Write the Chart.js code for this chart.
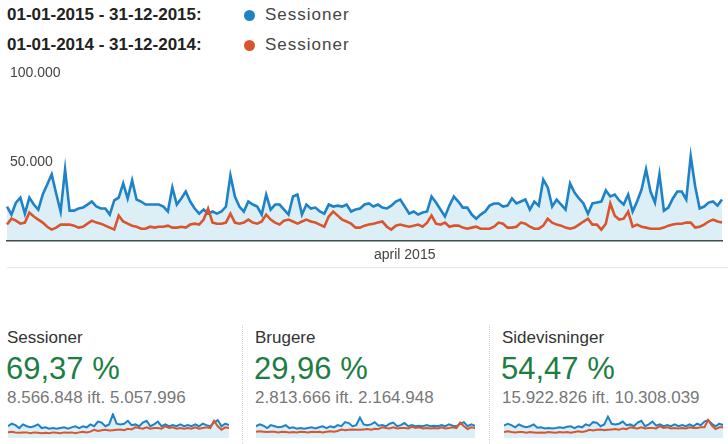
<!DOCTYPE html>
<html lang="da">
<head>
<meta charset="UTF-8">
<title>Sessioner 2015 vs 2014</title>
<script src="https://cdn.jsdelivr.net/npm/chart.js"></script>
<style>
  body { margin:0; width:728px; height:444px; overflow:hidden; background:#fff;
         font-family:"Liberation Sans", Arial, sans-serif; position:relative; }
  .abs { position:absolute; white-space:nowrap; }
  .period { font-weight:bold; font-size:17px; color:#222; left:7px; }
  .dot { width:11px; height:11px; border-radius:50%; left:244px; }
  .leg { font-size:17px; color:#444; left:265px; letter-spacing:1px; }
  .mname { font-size:17px; color:#333; }
  .mpct { font-size:31px; color:#1e7d45; }
  .msub { font-size:17px; color:#777; }
  .vsep { position:absolute; top:325px; height:119px; border-left:1px dotted #cfcfcf; }
</style>
</head>
<body>
  <!-- periode-legend -->
  <div class="abs period" style="top:5px;">01-01-2015 - 31-12-2015:</div>
  <div class="abs dot" style="top:10px;background:#1f82c6;"></div>
  <div class="abs leg" style="top:5px;">Sessioner</div>
  <div class="abs period" style="top:35px;">01-01-2014 - 31-12-2014:</div>
  <div class="abs dot" style="top:40px;background:#d9552d;"></div>
  <div class="abs leg" style="top:35px;">Sessioner</div>

  <!-- hovedgraf -->
  <div class="abs" style="left:0;top:60px;width:728px;height:212px;">
    <canvas id="mainChart"></canvas>
  </div>
  <div class="abs" style="left:7px;top:267px;width:721px;border-top:1px solid #e6e6e6;"></div>

  <!-- nøgletal -->
  <div class="abs mname" style="left:7px;top:328px;">Sessioner</div>
  <div class="abs mpct" style="left:6px;top:351px;">69,37 %</div>
  <div class="abs msub" style="left:7px;top:388px;">8.566.848 ift. 5.057.996</div>
  <div class="abs" style="left:8px;top:413px;width:221px;height:25px;"><canvas id="spark1"></canvas></div>

  <div class="vsep" style="left:242px;"></div>
  <div class="abs mname" style="left:255px;top:328px;">Brugere</div>
  <div class="abs mpct" style="left:254px;top:351px;">29,96 %</div>
  <div class="abs msub" style="left:255px;top:388px;">2.813.666 ift. 2.164.948</div>
  <div class="abs" style="left:256px;top:413px;width:219px;height:25px;"><canvas id="spark2"></canvas></div>

  <div class="vsep" style="left:489px;"></div>
  <div class="abs mname" style="left:502px;top:328px;">Sidevisninger</div>
  <div class="abs mpct" style="left:501px;top:351px;">54,47 %</div>
  <div class="abs msub" style="left:502px;top:388px;">15.922.826 ift. 10.308.039</div>
  <div class="abs" style="left:504px;top:413px;width:219px;height:25px;"><canvas id="spark3"></canvas></div>

<script>
// ---- data: sessioner pr. dag ----
const sessions2015 = [
  25300,20800,27500,30300,21300,30300,26400,23600,32000,37600,
  43300,32600,22500,46100,23000,23000,24200,24700,26400,28100,
  25300,24200,24200,20800,28700,30300,38200,29800,39900,29200,
  28100,26400,26400,26400,26400,25300,22500,36000,26400,29800,
  33700,28100,24200,21300,23600,21300,22500,21300,22500,25300,
  42700,30900,25300,22500,28100,26400,25300,20800,32000,23600,
  26400,26400,23600,20800,30900,32000,20800,26400,24200,24700,
  22500,21300,26400,25300,25800,25300,26400,22500,23600,24200,
  26400,27000,25300,26400,24700,24200,25800,28100,29200,25300,
  21300,22500,20800,21900,22500,30900,27500,23600,19700,25800,
  30900,28100,24700,24700,20800,18500,20800,22500,25800,27000,
  27000,25300,25800,29800,27000,28100,29200,23600,28100,25800,
  40400,36000,25300,29200,26400,23600,38200,33100,29800,27000,
  21300,27000,27500,28100,34300,30900,32000,28700,26400,32000,
  22500,28100,34800,46100,33700,27500,43300,23000,24700,29800,
  33700,33700,29200,53400,36500,24200,25300,27500,28100,25800,
  29200
];
const sessions2014 = [
  15200,18500,17400,15700,16300,21900,19700,18000,16300,14000,
  12400,13500,15200,15200,15200,14600,13500,14000,15700,17400,
  16300,15700,14600,13500,12400,20200,16900,15700,14600,14000,
  12900,12900,14000,13500,14000,14000,14600,13500,13500,14000,
  13500,15200,15700,15200,18000,24200,16300,15700,15700,16300,
  21300,16300,15700,16300,18000,16300,15700,16900,20800,18000,
  16300,15200,17400,18000,16900,15700,16900,18000,16900,16300,
  15200,14000,19700,22500,20200,18000,16900,15700,13500,13500,
  14600,15200,15700,16300,16900,14000,12400,14600,15200,14600,
  14000,14600,15200,14000,16300,20200,15700,15200,16300,14000,
  14600,14600,13500,12900,13500,14000,12900,12900,12900,14000,
  16300,15700,13500,13500,14000,16300,15700,14000,12900,12900,
  14600,18500,16300,15200,14600,13500,12900,13500,15200,16900,
  18500,15200,15200,12400,15700,27000,20200,18000,18500,22500,
  14000,15200,14000,13500,12900,12900,12900,13500,14600,15200,
  15700,15700,16300,16300,13500,14000,15200,16900,18000,16900,
  16300
];
const aprilIndex = 89;
const yTicks = [50000, 100000];

// ---- sparklines (hele året, ca. hver 6. dag) ----
const sparkSessions2015 = [
  24300,28400,26100,21300,27300,24300,22500,24300,27300,21300,
  22500,20100,21300,20100,21300,22500,20100,22500,24300,21300,
  24300,22500,27300,24300,32000,30200,24300,27300,43900,28400,
  27300,28400,33200,26100,27300,24300,30200,33200,24300,27300,
  32000,24300,27300,24300,26100,24300,27300,24300,26100,24300,
  27300,24300,28400,26100,24300,30200,34400,24300,28400,26100
];
const sparkSessions2014 = [
  14200,15400,14200,13600,14200,14200,13000,14200,13600,13000,
  13600,13000,14200,13600,13000,14200,13600,14200,13000,14200,
  15400,14200,15400,18400,16600,17800,18400,17200,17800,18400,
  19000,17800,20100,19000,22500,21300,20100,22500,20100,21300,
  21300,20100,24300,21300,22500,20100,21300,20100,21300,20100,
  22500,20100,21300,22500,21300,33200,24300,18400,22500,21300
];
const sparkUsers2015 = [
  24300,27300,25200,21300,26100,24300,22500,23400,26100,21300,
  22500,20100,21300,20100,21300,22500,20700,22500,24300,21300,
  24300,22500,26100,24300,31000,29500,24300,26100,38500,27300,
  26100,27300,31000,25200,26100,24300,28400,30200,24300,26100,
  29500,24300,26100,24300,25200,24300,26100,24300,25200,24300,
  26100,24300,27300,25200,24300,28400,31000,24300,27300,25200
];
const sparkUsers2014 = [
  15400,16000,15400,14800,15400,15400,14200,15400,14800,14200,
  14800,14200,15400,14800,14200,15400,14800,15400,14200,15400,
  16000,15400,16600,19000,17800,18400,19000,18400,18400,19000,
  19600,18400,20100,19600,22500,21300,20700,22500,20700,21300,
  21300,20700,23400,21300,22500,20700,21300,20700,21300,20700,
  22500,20700,21300,22500,21300,30200,24300,19600,22500,21300
];
const sparkViews2015 = [
  25200,28400,26100,22500,27300,24300,22500,24300,27300,21900,
  22500,20700,21300,20700,21300,22500,21300,23400,24300,21300,
  24300,22500,27300,25200,31000,30200,24300,27300,40000,28400,
  27300,28400,32000,26100,27300,24300,30200,33200,24300,27300,
  32000,25200,27300,24300,26100,24300,27300,24300,26100,24300,
  27300,24300,28400,26100,32000,34400,28400,24300,28400,26100
];
const sparkViews2014 = [
  14800,16000,14800,14200,14800,14800,13600,14800,14200,13600,
  14200,13600,14800,14200,13600,14800,14200,14800,13600,14800,
  16000,14800,16000,18400,17200,18400,19000,17800,18400,19000,
  19600,18400,20700,19600,22500,21300,20700,22500,20700,21300,
  21300,20700,24300,21300,22500,20700,21300,20700,21300,20700,
  22500,21300,21300,22500,22500,34400,25200,19600,22500,22500
];

const BLUE = '#1f82c6';
const ORANGE = '#d9552d';
const FILL = 'rgba(5,141,199,0.14)';

const dayLabels = sessions2015.map((v, i) => i === aprilIndex ? 'april 2015' : '');
const fmt = v => String(v).replace(/\B(?=(\d{3})+(?!\d))/g, '.');

// ---- hovedgraf ----
new Chart(document.getElementById('mainChart'), {
  type: 'line',
  data: {
    labels: dayLabels,
    datasets: [{
      label: 'Sessioner 2015',
      data: sessions2015,
      borderColor: BLUE,
      borderWidth: 2.6,
      backgroundColor: FILL,
      fill: 'start',
      pointRadius: 0,
      tension: 0,
      order: 2
    }, {
      label: 'Sessioner 2014',
      data: sessions2014,
      borderColor: ORANGE,
      borderWidth: 2.6,
      fill: false,
      pointRadius: 0,
      tension: 0,
      order: 1
    }]
  },
  options: {
    responsive: true,
    maintainAspectRatio: false,
    animation: false,
    layout: { padding: { left: 7, top: 13, right: 0, bottom: 2 } },
    plugins: { legend: { display: false }, tooltip: { enabled: false } },
    scales: {
      x: {
        grid: { display: false, drawTicks: false },
        border: { display: true, color: '#444', width: 1.5 },
        ticks: { autoSkip: false, maxRotation: 0, minRotation: 0, padding: 6,
                 color: '#444', font: { family: 'Liberation Sans', size: 14 } }
      },
      y: {
        min: 5900,
        max: 100000,
        afterBuildTicks: axis => { axis.ticks = yTicks.map(v => ({ value: v })); },
        afterFit: axis => { axis.width = 0; },
        grid: { display: false },
        border: { display: false },
        ticks: { mirror: true, padding: 3, color: '#444', callback: v => fmt(v),
                 font: { family: 'Liberation Sans', size: 14 } }
      }
    }
  }
});

// ---- sparklines ----
const drawSpark = (id, cur, prev) => {
  new Chart(document.getElementById(id), {
    type: 'line',
    data: {
      labels: cur.map(() => ''),
      datasets: [
        { data: cur, borderColor: BLUE, borderWidth: 2, backgroundColor: FILL,
          fill: 'start', pointRadius: 0, tension: 0, order: 2 },
        { data: prev, borderColor: ORANGE, borderWidth: 2, fill: false,
          pointRadius: 0, tension: 0, order: 1 }
      ]
    },
    options: {
      responsive: true,
      maintainAspectRatio: false,
      animation: false,
      layout: { padding: 0 },
      plugins: { legend: { display: false }, tooltip: { enabled: false } },
      scales: {
        x: { display: false },
        y: { display: false, min: 5000, max: 46000 }
      }
    }
  });
};
drawSpark('spark1', sparkSessions2015, sparkSessions2014);
drawSpark('spark2', sparkUsers2015, sparkUsers2014);
drawSpark('spark3', sparkViews2015, sparkViews2014);
</script>
</body>
</html>
